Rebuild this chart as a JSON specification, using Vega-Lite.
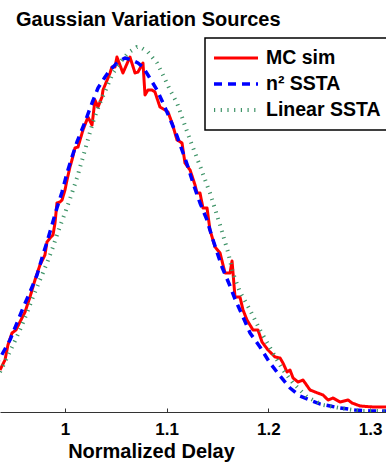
{
  "$schema": "https://vega.github.io/schema/vega-lite/v6.json",
  "width": 386,
  "height": 382,
  "autosize": {"type": "none"},
  "padding": {"left": 0, "top": 30, "right": 0, "bottom": 52},
  "background": "white",
  "config": {"view": {"stroke": null}},
  "title": {
    "text": "Gaussian Variation Sources",
    "anchor": "start",
    "dx": 16,
    "dy": 24,
    "offset": 8,
    "baseline": "alphabetic",
    "font": "Liberation Sans",
    "fontSize": 20,
    "fontWeight": "bold",
    "color": "black"
  },
  "data": {
    "values": [
      {"s": "MC sim", "x": 0.9361, "y": 42},
      {"s": "MC sim", "x": 0.9410, "y": 52},
      {"s": "MC sim", "x": 0.9439, "y": 67},
      {"s": "MC sim", "x": 0.9479, "y": 79},
      {"s": "MC sim", "x": 0.9518, "y": 82},
      {"s": "MC sim", "x": 0.9557, "y": 90},
      {"s": "MC sim", "x": 0.9607, "y": 100},
      {"s": "MC sim", "x": 0.9656, "y": 115},
      {"s": "MC sim", "x": 0.9705, "y": 132},
      {"s": "MC sim", "x": 0.9754, "y": 147},
      {"s": "MC sim", "x": 0.9803, "y": 157},
      {"s": "MC sim", "x": 0.9823, "y": 170},
      {"s": "MC sim", "x": 0.9853, "y": 174},
      {"s": "MC sim", "x": 0.9882, "y": 177},
      {"s": "MC sim", "x": 0.9902, "y": 189},
      {"s": "MC sim", "x": 0.9921, "y": 209},
      {"s": "MC sim", "x": 0.9951, "y": 210},
      {"s": "MC sim", "x": 0.9971, "y": 212},
      {"s": "MC sim", "x": 1.0000, "y": 222},
      {"s": "MC sim", "x": 1.0020, "y": 232},
      {"s": "MC sim", "x": 1.0049, "y": 245},
      {"s": "MC sim", "x": 1.0069, "y": 252},
      {"s": "MC sim", "x": 1.0098, "y": 264},
      {"s": "MC sim", "x": 1.0128, "y": 265},
      {"s": "MC sim", "x": 1.0148, "y": 272},
      {"s": "MC sim", "x": 1.0177, "y": 282},
      {"s": "MC sim", "x": 1.0226, "y": 295},
      {"s": "MC sim", "x": 1.0266, "y": 287},
      {"s": "MC sim", "x": 1.0295, "y": 312},
      {"s": "MC sim", "x": 1.0325, "y": 305},
      {"s": "MC sim", "x": 1.0364, "y": 315},
      {"s": "MC sim", "x": 1.0374, "y": 322},
      {"s": "MC sim", "x": 1.0443, "y": 339},
      {"s": "MC sim", "x": 1.0462, "y": 345},
      {"s": "MC sim", "x": 1.0492, "y": 345},
      {"s": "MC sim", "x": 1.0511, "y": 355},
      {"s": "MC sim", "x": 1.0570, "y": 339},
      {"s": "MC sim", "x": 1.0639, "y": 355},
      {"s": "MC sim", "x": 1.0689, "y": 339},
      {"s": "MC sim", "x": 1.0718, "y": 340},
      {"s": "MC sim", "x": 1.0767, "y": 349},
      {"s": "MC sim", "x": 1.0787, "y": 317},
      {"s": "MC sim", "x": 1.0816, "y": 322},
      {"s": "MC sim", "x": 1.0856, "y": 322},
      {"s": "MC sim", "x": 1.0885, "y": 320},
      {"s": "MC sim", "x": 1.0934, "y": 305},
      {"s": "MC sim", "x": 1.0984, "y": 302},
      {"s": "MC sim", "x": 1.1013, "y": 300},
      {"s": "MC sim", "x": 1.1053, "y": 289},
      {"s": "MC sim", "x": 1.1102, "y": 272},
      {"s": "MC sim", "x": 1.1151, "y": 269},
      {"s": "MC sim", "x": 1.1180, "y": 249},
      {"s": "MC sim", "x": 1.1230, "y": 242},
      {"s": "MC sim", "x": 1.1279, "y": 227},
      {"s": "MC sim", "x": 1.1298, "y": 219},
      {"s": "MC sim", "x": 1.1328, "y": 219},
      {"s": "MC sim", "x": 1.1357, "y": 204},
      {"s": "MC sim", "x": 1.1397, "y": 204},
      {"s": "MC sim", "x": 1.1426, "y": 182},
      {"s": "MC sim", "x": 1.1476, "y": 165},
      {"s": "MC sim", "x": 1.1525, "y": 159},
      {"s": "MC sim", "x": 1.1574, "y": 139},
      {"s": "MC sim", "x": 1.1623, "y": 139},
      {"s": "MC sim", "x": 1.1643, "y": 151},
      {"s": "MC sim", "x": 1.1672, "y": 115},
      {"s": "MC sim", "x": 1.1721, "y": 115},
      {"s": "MC sim", "x": 1.1751, "y": 102},
      {"s": "MC sim", "x": 1.1790, "y": 92},
      {"s": "MC sim", "x": 1.1849, "y": 82},
      {"s": "MC sim", "x": 1.1898, "y": 82},
      {"s": "MC sim", "x": 1.1938, "y": 70},
      {"s": "MC sim", "x": 1.1997, "y": 62},
      {"s": "MC sim", "x": 1.2066, "y": 55},
      {"s": "MC sim", "x": 1.2115, "y": 54},
      {"s": "MC sim", "x": 1.2144, "y": 49},
      {"s": "MC sim", "x": 1.2184, "y": 40},
      {"s": "MC sim", "x": 1.2213, "y": 42},
      {"s": "MC sim", "x": 1.2243, "y": 34},
      {"s": "MC sim", "x": 1.2292, "y": 30},
      {"s": "MC sim", "x": 1.2341, "y": 32},
      {"s": "MC sim", "x": 1.2410, "y": 22},
      {"s": "MC sim", "x": 1.2459, "y": 20},
      {"s": "MC sim", "x": 1.2538, "y": 17},
      {"s": "MC sim", "x": 1.2587, "y": 12},
      {"s": "MC sim", "x": 1.2636, "y": 14},
      {"s": "MC sim", "x": 1.2705, "y": 10},
      {"s": "MC sim", "x": 1.2784, "y": 12},
      {"s": "MC sim", "x": 1.2823, "y": 9},
      {"s": "MC sim", "x": 1.2902, "y": 6},
      {"s": "MC sim", "x": 1.3030, "y": 5},
      {"s": "MC sim", "x": 1.3197, "y": 5},
      {"s": "n² SSTA", "x": 0.9312, "y": 45},
      {"s": "n² SSTA", "x": 0.9361, "y": 54},
      {"s": "n² SSTA", "x": 0.9459, "y": 72},
      {"s": "n² SSTA", "x": 0.9528, "y": 89},
      {"s": "n² SSTA", "x": 0.9587, "y": 104},
      {"s": "n² SSTA", "x": 0.9656, "y": 120},
      {"s": "n² SSTA", "x": 0.9725, "y": 137},
      {"s": "n² SSTA", "x": 0.9774, "y": 154},
      {"s": "n² SSTA", "x": 0.9823, "y": 170},
      {"s": "n² SSTA", "x": 0.9872, "y": 187},
      {"s": "n² SSTA", "x": 0.9921, "y": 204},
      {"s": "n² SSTA", "x": 0.9971, "y": 220},
      {"s": "n² SSTA", "x": 1.0020, "y": 239},
      {"s": "n² SSTA", "x": 1.0069, "y": 255},
      {"s": "n² SSTA", "x": 1.0118, "y": 270},
      {"s": "n² SSTA", "x": 1.0197, "y": 290},
      {"s": "n² SSTA", "x": 1.0266, "y": 309},
      {"s": "n² SSTA", "x": 1.0325, "y": 324},
      {"s": "n² SSTA", "x": 1.0394, "y": 335},
      {"s": "n² SSTA", "x": 1.0443, "y": 342},
      {"s": "n² SSTA", "x": 1.0521, "y": 350},
      {"s": "n² SSTA", "x": 1.0590, "y": 354},
      {"s": "n² SSTA", "x": 1.0659, "y": 352},
      {"s": "n² SSTA", "x": 1.0718, "y": 349},
      {"s": "n² SSTA", "x": 1.0767, "y": 345},
      {"s": "n² SSTA", "x": 1.0816, "y": 337},
      {"s": "n² SSTA", "x": 1.0905, "y": 322},
      {"s": "n² SSTA", "x": 1.0964, "y": 309},
      {"s": "n² SSTA", "x": 1.1033, "y": 293},
      {"s": "n² SSTA", "x": 1.1102, "y": 276},
      {"s": "n² SSTA", "x": 1.1161, "y": 259},
      {"s": "n² SSTA", "x": 1.1210, "y": 245},
      {"s": "n² SSTA", "x": 1.1259, "y": 229},
      {"s": "n² SSTA", "x": 1.1328, "y": 209},
      {"s": "n² SSTA", "x": 1.1397, "y": 192},
      {"s": "n² SSTA", "x": 1.1446, "y": 175},
      {"s": "n² SSTA", "x": 1.1544, "y": 145},
      {"s": "n² SSTA", "x": 1.1623, "y": 126},
      {"s": "n² SSTA", "x": 1.1672, "y": 113},
      {"s": "n² SSTA", "x": 1.1751, "y": 95},
      {"s": "n² SSTA", "x": 1.1820, "y": 79},
      {"s": "n² SSTA", "x": 1.1918, "y": 65},
      {"s": "n² SSTA", "x": 1.2016, "y": 49},
      {"s": "n² SSTA", "x": 1.2115, "y": 36},
      {"s": "n² SSTA", "x": 1.2213, "y": 24},
      {"s": "n² SSTA", "x": 1.2311, "y": 16},
      {"s": "n² SSTA", "x": 1.2410, "y": 12},
      {"s": "n² SSTA", "x": 1.2508, "y": 8},
      {"s": "n² SSTA", "x": 1.2607, "y": 6},
      {"s": "n² SSTA", "x": 1.2705, "y": 4},
      {"s": "n² SSTA", "x": 1.2853, "y": 2},
      {"s": "n² SSTA", "x": 1.3000, "y": 1},
      {"s": "n² SSTA", "x": 1.3197, "y": 1},
      {"s": "Linear SSTA", "x": 0.9361, "y": 40},
      {"s": "Linear SSTA", "x": 0.9410, "y": 50},
      {"s": "Linear SSTA", "x": 0.9489, "y": 67},
      {"s": "Linear SSTA", "x": 0.9557, "y": 82},
      {"s": "Linear SSTA", "x": 0.9626, "y": 99},
      {"s": "Linear SSTA", "x": 0.9685, "y": 115},
      {"s": "Linear SSTA", "x": 0.9754, "y": 132},
      {"s": "Linear SSTA", "x": 0.9823, "y": 149},
      {"s": "Linear SSTA", "x": 0.9882, "y": 165},
      {"s": "Linear SSTA", "x": 0.9931, "y": 180},
      {"s": "Linear SSTA", "x": 1.0000, "y": 199},
      {"s": "Linear SSTA", "x": 1.0049, "y": 213},
      {"s": "Linear SSTA", "x": 1.0118, "y": 234},
      {"s": "Linear SSTA", "x": 1.0177, "y": 255},
      {"s": "Linear SSTA", "x": 1.0275, "y": 290},
      {"s": "Linear SSTA", "x": 1.0344, "y": 309},
      {"s": "Linear SSTA", "x": 1.0413, "y": 325},
      {"s": "Linear SSTA", "x": 1.0472, "y": 339},
      {"s": "Linear SSTA", "x": 1.0561, "y": 352},
      {"s": "Linear SSTA", "x": 1.0620, "y": 359},
      {"s": "Linear SSTA", "x": 1.0708, "y": 365},
      {"s": "Linear SSTA", "x": 1.0738, "y": 365},
      {"s": "Linear SSTA", "x": 1.0816, "y": 360},
      {"s": "Linear SSTA", "x": 1.0905, "y": 349},
      {"s": "Linear SSTA", "x": 1.0964, "y": 337},
      {"s": "Linear SSTA", "x": 1.1033, "y": 322},
      {"s": "Linear SSTA", "x": 1.1102, "y": 309},
      {"s": "Linear SSTA", "x": 1.1161, "y": 292},
      {"s": "Linear SSTA", "x": 1.1230, "y": 272},
      {"s": "Linear SSTA", "x": 1.1328, "y": 246},
      {"s": "Linear SSTA", "x": 1.1426, "y": 219},
      {"s": "Linear SSTA", "x": 1.1525, "y": 187},
      {"s": "Linear SSTA", "x": 1.1603, "y": 160},
      {"s": "Linear SSTA", "x": 1.1652, "y": 139},
      {"s": "Linear SSTA", "x": 1.1721, "y": 120},
      {"s": "Linear SSTA", "x": 1.1820, "y": 102},
      {"s": "Linear SSTA", "x": 1.1918, "y": 82},
      {"s": "Linear SSTA", "x": 1.2046, "y": 59},
      {"s": "Linear SSTA", "x": 1.2144, "y": 42},
      {"s": "Linear SSTA", "x": 1.2243, "y": 29},
      {"s": "Linear SSTA", "x": 1.2380, "y": 15},
      {"s": "Linear SSTA", "x": 1.2538, "y": 7},
      {"s": "Linear SSTA", "x": 1.2705, "y": 4},
      {"s": "Linear SSTA", "x": 1.2902, "y": 1},
      {"s": "Linear SSTA", "x": 1.3197, "y": 1}
    ]
  },
  "mark": {"type": "line", "clip": true, "strokeCap": "butt", "strokeJoin": "round"},
  "encoding": {
    "x": {
      "field": "x",
      "type": "quantitative",
      "scale": {"domain": [0.9361, 1.3157], "nice": false, "zero": false},
      "axis": {
        "values": [1, 1.1, 1.2, 1.3],
        "format": ".1~f",
        "grid": false,
        "tickSize": -4,
        "tickColor": "#333333",
        "domainColor": "#333333",
        "domainWidth": 1.2,
        "labelFont": "Liberation Sans",
        "labelFontWeight": "bold",
        "labelFontSize": 17,
        "labelColor": "black",
        "labelPadding": 13,
        "labelFlush": false,
        "title": "Normalized Delay",
        "titleFont": "Liberation Sans",
        "titleFontWeight": "bold",
        "titleFontSize": 20,
        "titleColor": "black",
        "titleX": 151,
        "titleY": 45,
        "titleAlign": "center",
        "titleBaseline": "alphabetic"
      }
    },
    "y": {
      "field": "y",
      "type": "quantitative",
      "scale": {"domain": [0, 382], "nice": false},
      "axis": null
    },
    "detail": {"field": "s"},
    "order": {"field": "x", "type": "quantitative"},
    "color": {
      "field": "s",
      "type": "nominal",
      "scale": {
        "domain": ["MC sim", "n² SSTA", "Linear SSTA"],
        "range": ["#ff0000", "#0000ff", "#3f9468"]
      },
      "legend": {
        "title": null,
        "orient": "none",
        "legendX": 205,
        "legendY": 8,
        "padding": 7,
        "strokeColor": "black",
        "fillColor": "white",
        "symbolType": "stroke",
        "symbolSize": 1936,
        "symbolStrokeWidth": 3.5,
        "clipHeight": 26,
        "rowPadding": 0,
        "labelOffset": 6,
        "labelFont": "Liberation Sans",
        "labelFontWeight": "bold",
        "labelFontSize": 19.5,
        "labelColor": "black",
        "labelLimit": 300,
        "encode": {"legend": {"update": {"strokeWidth": {"value": 1.5}}}}
      }
    },
    "strokeDash": {
      "field": "s",
      "type": "nominal",
      "scale": {
        "domain": ["MC sim", "n² SSTA", "Linear SSTA"],
        "range": [[1, 0], [8, 6], [1.2, 5.5]]
      }
    },
    "strokeWidth": {
      "field": "s",
      "type": "nominal",
      "scale": {
        "domain": ["MC sim", "n² SSTA", "Linear SSTA"],
        "range": [3, 4, 5]
      },
      "legend": null
    }
  }
}
